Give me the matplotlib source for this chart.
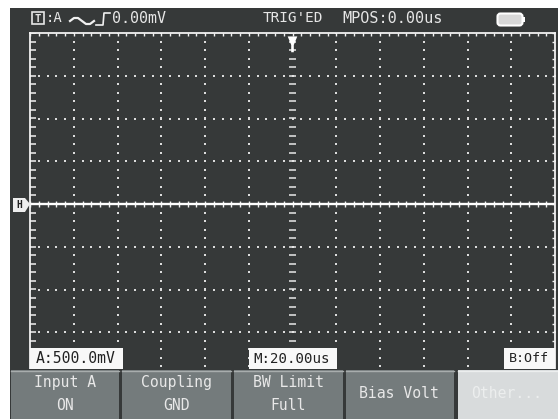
import matplotlib
matplotlib.use('Agg')
import matplotlib.pyplot as plt
from matplotlib.patches import Rectangle, Polygon, FancyBboxPatch
import numpy as np

W, H = 558, 419

# trace, in divisions
trace_t = [-6, 6]
trace_v = [0, 0]

menu_top = ['Input A', 'Coupling', 'BW Limit', 'Bias Volt', 'Other...']
menu_bot = ['ON', 'GND', 'Full', '', '']
menu_x = [(11, 119), (122, 231), (234, 343), (346, 454), (458, 558)]

dark = '#363939'
fnt = 'DejaVu Sans Mono'

fig = plt.figure(figsize=(W / 100, H / 100), dpi=100, facecolor='white')

# page axes in pixels, y going down
page = fig.add_axes([0, 0, 1, 1])
page.set_xlim(0, W)
page.set_ylim(H, 0)
page.axis('off')
page.add_patch(Rectangle((10, 8), W - 10, H - 8, fc=dark, ec='none'))

# the scope screen, in divisions
x0, x1, y0, y1 = 30, 555, 33, 375
scr = fig.add_axes([x0 / W, 1 - y1 / H, (x1 - x0) / W, (y1 - y0) / H])
scr.set_xlim(-6, 6)
scr.set_ylim(-4, 4)
scr.set_facecolor(dark)
scr.set_xticks([])
scr.set_yticks([])
for s in scr.spines.values():
    s.set_color('#f2f2f2')
    s.set_linewidth(1.3)

dots_x = np.arange(-6, 6.01, 0.2)
dots_y = np.arange(-4, 4.01, 0.2)
for gx in range(-5, 6):
    if gx != 0:
        scr.plot([gx] * len(dots_y), dots_y, ls='none', marker='s', ms=1.5, mew=0, color='#dcdcdc')
for gy in range(-3, 4):
    if gy != 0:
        scr.plot(dots_x, [gy] * len(dots_x), ls='none', marker='s', ms=1.5, mew=0, color='#dcdcdc')

# ticks on border and centre cross
scr.vlines(dots_x, 3.94, 4, color='#f2f2f2', lw=1)
scr.hlines(dots_y, -6, -5.87, color='#f2f2f2', lw=1.1)
scr.hlines(dots_y, 5.94, 6, color='#f2f2f2', lw=1)
scr.hlines(dots_y, -0.09, 0.09, color='#e8e8e8', lw=1.1)
scr.vlines(dots_x, -0.07, 0.07, color='#f2f2f2', lw=1)
scr.plot(trace_t, trace_v, color='white', lw=1.7)

# trigger marker
scr.add_patch(Polygon([(-0.11, 3.92), (0.11, 3.92), (0.03, 3.72), (0.03, 3.55), (-0.03, 3.55), (-0.03, 3.72)],
                      fc='white', ec='none', zorder=5))

# things on top of the screen
top = fig.add_axes([0, 0, 1, 1])
top.set_xlim(0, W)
top.set_ylim(H, 0)
top.axis('off')
top.patch.set_alpha(0)

# ground marker
top.add_patch(Polygon([(13, 198), (25, 198), (30, 204), (25, 212), (13, 212)], fc='#eeeeee', ec='none'))
top.text(19, 205, 'H', color='#222222', fontsize=7, ha='center', va='center', family=fnt, weight='bold')

# header
top.add_patch(Rectangle((32, 12.5), 12, 12, fc='none', ec='#e6e6e6', lw=1.2))
top.text(38, 18.7, 'T', color='#e6e6e6', fontsize=7.5, ha='center', va='center', family=fnt, weight='bold')
top.text(46, 18.5, ':A', color='#e6e6e6', fontsize=10, ha='left', va='center', family=fnt)
top.text(112, 18.5, '0.00mV', color='#e6e6e6', fontsize=10.8, ha='left', va='center', family=fnt)
top.text(263, 18.5, "TRIG'ED", color='#e6e6e6', fontsize=10.4, ha='left', va='center', family=fnt)
top.text(342, 18.5, 'MPOS:0.00us', color='#e6e6e6', fontsize=10.9, ha='left', va='center', family=fnt)

# coupling wave and edge glyphs
wave_x = np.array([70, 74, 78, 82, 86, 90, 94])
wave_y = np.array([21, 18, 18, 21, 24, 24, 21])
top.plot(wave_x, wave_y, color='#f0f0f0', lw=1.6)
top.plot([96, 103, 104, 110], [25, 25, 13, 13], color='#f0f0f0', lw=1.2)

# battery
top.add_patch(FancyBboxPatch((498, 14), 24, 11, boxstyle='round,pad=0.5,rounding_size=3', fc='#d8d8d8', ec='white', lw=1.5))
top.add_patch(Rectangle((523, 17), 2, 5, fc='white', ec='none'))

# readout strips
for (a, b, label, fs) in [(30, 123, 'A:500.0mV', 10.6), (249, 337, 'M:20.00us', 10.2), (504, 555, 'B:Off', 9.6)]:
    top.add_patch(Rectangle((a, 348), b - a, 21, fc='#f8f8f8', ec='none'))
    top.text((a + b) / 2 - 1, 358.5, label, color='#222222', fontsize=fs, ha='center', va='center', family=fnt)

# menu buttons
top.add_patch(Rectangle((10, 369), W - 10, H - 369, fc=dark, ec='none'))
for i, (a, b) in enumerate(menu_x):
    last = i == 4
    top.add_patch(Rectangle((a, 370), b - a, H - 370, fc='#d8dbdc' if last else '#747b7c', ec='none'))
    top.plot([a, b], [370.5, 370.5], color='#a8adad' if not last else '#eceeee', lw=1)
    tc = '#eceeee' if last else '#e8e8e8'
    if menu_bot[i]:
        top.text((a + b) / 2, 382, menu_top[i], color=tc, fontsize=10.6, ha='center', va='center', family=fnt)
        top.text((a + b) / 2, 405, menu_bot[i], color=tc, fontsize=10.6, ha='center', va='center', family=fnt)
    else:
        top.text((a + b) / 2 - 1, 393, menu_top[i], color=tc, fontsize=10.6, ha='center', va='center', family=fnt)

fig.savefig('out.png', dpi=100)
